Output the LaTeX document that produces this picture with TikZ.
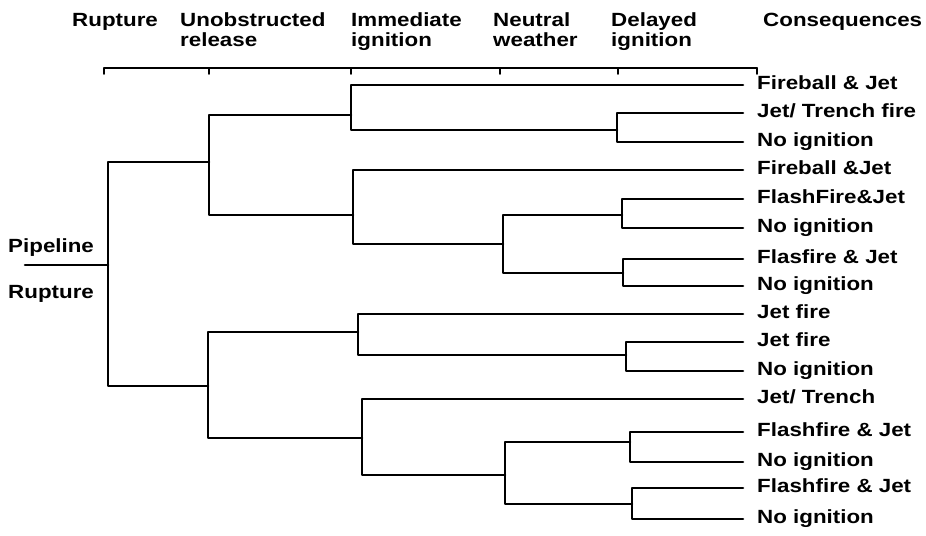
\documentclass[tikz,border=0pt]{standalone}
\usepackage{fontspec}
\setmainfont{Liberation Sans}[FakeStretch=1.17]
\begin{document}
\begin{tikzpicture}[x=0.03cm,y=-0.03cm,line join=round,line cap=round,font=\fontsize{16.3}{17.6}\selectfont\bfseries]
    \tikzset{branch/.style={line width=2.2pt},
        rule/.style={line width=1.5pt},
        leaf/.style={anchor=west,inner xsep=0.42cm,inner ysep=0pt,text height=1.38ex,text depth=0pt},
        head/.style={anchor=base west,inner sep=0pt,align=left}}
    \useasboundingbox (0,0) rectangle (926,536);
    % header (base anchor sits on the last line)
    \draw[rule] (104,68) -- (757,68);
    \foreach \x in {104,209,351,500,618,757} \draw[rule] (\x,68) -- (\x,74);
    \node[head] (hrupture) at (72,27) {Rupture};
    \node[head] (hrelease) at (180,47) {Unobstructed\\release};
    \node[head] (himmediate) at (351,47) {Immediate\\ignition};
    \node[head] (hweather) at (493,47) {Neutral\\weather};
    \node[head] (hdelayed) at (611,47) {Delayed\\ignition};
    \node[head] (hconseq) at (763,27) {Consequences};
    % root
    \coordinate (r0) at (25,265);
    \coordinate (rf) at (108,265);
    \node[head] (pipe) at (8,252) {Pipeline};
    \node[head] (rupt) at (8,298) {Rupture};
    % branch points
    \coordinate (a) at (209,162);
    \coordinate (b) at (208,386);
    \coordinate (a1) at (351,115);
    \coordinate (a2) at (353,215);
    \coordinate (a1n) at (617,130);
    \coordinate (a2n) at (503,244);
    \coordinate (a2d1) at (622,215);
    \coordinate (a2d2) at (623,273);
    \coordinate (b1) at (358,332);
    \coordinate (b2) at (362,438);
    \coordinate (b1d) at (626,355);
    \coordinate (b2n) at (505,475);
    \coordinate (b2d1) at (630,442);
    \coordinate (b2d2) at (632,504);
    % consequences
    \foreach \n/\y/\t in {L1/85/{Fireball \& Jet},L2/113/{Jet/ Trench fire},L3/142/{No ignition},
        L4/170/{Fireball \&Jet},L5/199/{FlashFire\&Jet},L6/228/{No ignition},
        L7/259/{Flasfire \& Jet},L8/286/{No ignition},L9/314/{Jet fire},L10/342/{Jet fire},
        L11/371/{No ignition},L12/399/{Jet/ Trench},L13/432/{Flashfire \& Jet},
        L14/462/{No ignition},L15/488/{Flashfire \& Jet},L16/519/{No ignition}}
        \node[leaf] (\n) at (743,\y) {\t};
    % tree
    \draw[branch] (r0) -- (rf);
    \foreach \p/\c in {rf/a,rf/b,a/a1,a/a2,a1/L1,a1/a1n,a1n/L2,a1n/L3,a2/L4,a2/a2n,
        a2n/a2d1,a2n/a2d2,a2d1/L5,a2d1/L6,a2d2/L7,a2d2/L8,
        b/b1,b/b2,b1/L9,b1/b1d,b1d/L10,b1d/L11,b2/L12,b2/b2n,
        b2n/b2d1,b2n/b2d2,b2d1/L13,b2d1/L14,b2d2/L15,b2d2/L16}
        \draw[branch] (\p) |- (\c);
\end{tikzpicture}
\end{document}
